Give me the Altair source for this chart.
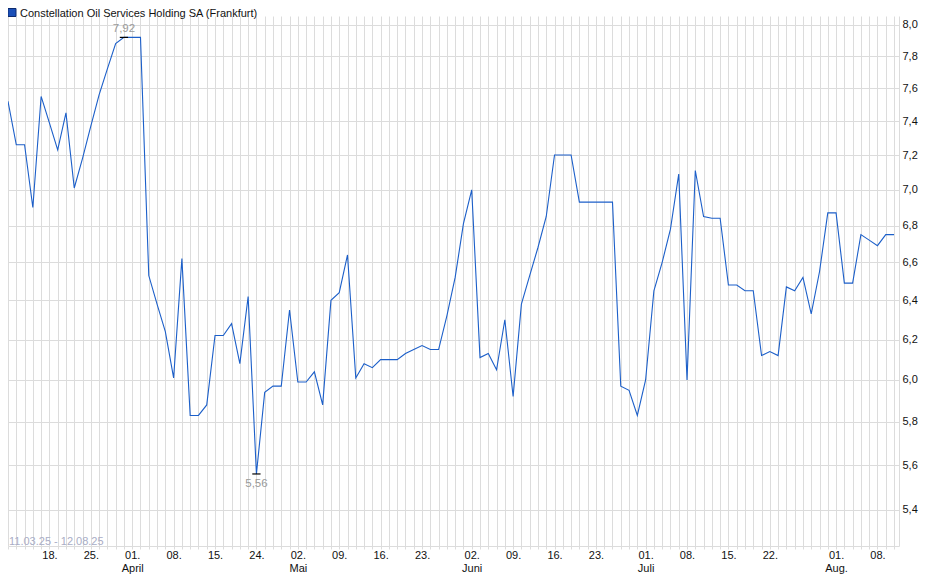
import altair as alt
import pandas as pd

# ---------------- data ----------------
series_name = "Constellation Oil Services Holding SA (Frankfurt)"
range_text = "11.03.25 - 12.08.25"

holidays = ["2025-04-18", "2025-04-21", "2025-05-01"]
days = [d.strftime("%Y-%m-%d") for d in pd.bdate_range("2025-03-11", "2025-08-12")
        if d.strftime("%Y-%m-%d") not in holidays]

prices = [
    7.52, 7.26, 7.26, 6.90, 7.55, 7.39, 7.23, 7.45, 7.01, 7.18,
    7.37, 7.56, 7.72, 7.88, 7.92, 7.92, 7.92, 6.53, 6.38, 6.24,
    6.01, 6.62, 5.83, 5.83, 5.88, 6.22, 6.22, 6.28, 6.08, 6.42,
    5.56, 5.94, 5.97, 5.97, 6.35, 5.99, 5.99, 6.04, 5.88, 6.40,
    6.44, 6.64, 6.01, 6.08, 6.06, 6.10, 6.10, 6.10, 6.13, 6.15,
    6.17, 6.15, 6.15, 6.32, 6.52, 6.81, 7.00, 6.11, 6.13, 6.05,
    6.30, 5.92, 6.38, 6.53, 6.68, 6.85, 7.20, 7.20, 7.20, 6.93,
    6.93, 6.93, 6.93, 6.93, 5.97, 5.95, 5.83, 6.00, 6.45, 6.60,
    6.78, 7.09, 6.00, 7.11, 6.85, 6.84, 6.84, 6.48, 6.48, 6.45,
    6.45, 6.12, 6.14, 6.12, 6.47, 6.45, 6.52, 6.33, 6.55, 6.87,
    6.87, 6.49, 6.49, 6.75, 6.72, 6.69, 6.75, 6.75,
]

tick_dates = ["2025-03-18", "2025-03-25", "2025-04-01", "2025-04-08", "2025-04-15",
              "2025-04-24", "2025-05-02", "2025-05-09", "2025-05-16", "2025-05-23",
              "2025-06-02", "2025-06-09", "2025-06-16", "2025-06-23", "2025-07-01",
              "2025-07-08", "2025-07-15", "2025-07-22", "2025-08-01", "2025-08-08"]
tick_texts = ["18.", "25.", "01.|April", "08.", "15.",
              "24.", "02.|Mai", "09.", "16.", "23.",
              "02.|Juni", "09.", "16.", "23.", "01.|Juli",
              "08.", "15.", "22.", "01.|Aug.", "08."]

y_ticks = [5.4, 5.6, 5.8, 6.0, 6.2, 6.4, 6.6, 6.8, 7.0, 7.2, 7.4, 7.6, 7.8, 8.0]

# ---------------- tables ----------------
df = pd.DataFrame({"idx": list(range(len(days))), "date": days, "price": prices,
                   "series": series_name})
tick_idx = [days.index(d) for d in tick_dates]

imax = prices.index(max(prices))
imin = prices.index(min(prices))
ann = pd.DataFrame({
    "idx": [imax, imin],
    "lo": [imax - 0.5, imin - 0.5],
    "hi": [imax + 0.5, imin + 0.5],
    "price": [prices[imax], prices[imin]],
    "label": [f"{prices[imax]:.2f}".replace(".", ","), f"{prices[imin]:.2f}".replace(".", ",")],
    "kind": ["max", "min"],
})

# ---------------- style ----------------
FONT = "Liberation Sans"
GRID = "#dcdcdc"
LINE = "#1c5fc9"
W, H = 891, 530

label_expr = (
    f"indexof({tick_idx}, datum.value) < 0 ? '' : "
    f"split({tick_texts}[indexof({tick_idx}, datum.value)], '|')"
)

x_axis = alt.Axis(values=list(range(len(days))), labelExpr=label_expr, grid=True,
                  gridColor=GRID, gridWidth=1, tickColor=GRID, tickSize=3, domainColor=GRID,
                  labelFont=FONT, labelFontSize=11, labelColor="#111", labelPadding=0,
                  labelFlush=False, labelOverlap=False, labelLineHeight=13, title=None)
y_axis = alt.Axis(orient="right", values=y_ticks,
                  labelExpr="replace(format(datum.value, '.1f'), '.', ',')",
                  grid=True, gridColor=GRID, gridWidth=1, ticks=False, domainColor=GRID,
                  labelFont=FONT, labelFontSize=11, labelColor="#111", labelPadding=3,
                  labelOverlap=False, labelFlush=False, title=None)

x_scale = alt.Scale(domain=[0, len(days) - 1 + 0.6], nice=False, zero=False)
y_scale = alt.Scale(type="log", domain=[5.2447, 8.0585], nice=False, zero=False)

line = alt.Chart(df).mark_line(color=LINE, strokeWidth=1.1).encode(
    x=alt.X("idx:Q", scale=x_scale, axis=x_axis),
    y=alt.Y("price:Q", scale=y_scale, axis=y_axis),
)

marks = alt.Chart(ann).mark_rule(color="#000", strokeWidth=1.2).encode(
    x=alt.X("lo:Q", scale=x_scale, axis=x_axis),
    x2="hi:Q",
    y=alt.Y("price:Q", scale=y_scale, axis=y_axis),
)

ann_max = alt.Chart(ann).transform_filter("datum.kind == 'max'").mark_text(
    font=FONT, fontSize=11.5, color="#9a9a9a", dy=-8, baseline="middle"
).encode(
    x=alt.X("idx:Q", scale=x_scale, axis=x_axis),
    y=alt.Y("price:Q", scale=y_scale, axis=y_axis),
    text="label:N",
)
ann_min = alt.Chart(ann).transform_filter("datum.kind == 'min'").mark_text(
    font=FONT, fontSize=11.5, color="#9a9a9a", dy=10, baseline="middle"
).encode(
    x=alt.X("idx:Q", scale=x_scale, axis=x_axis),
    y=alt.Y("price:Q", scale=y_scale, axis=y_axis),
    text="label:N",
)

range_lbl = alt.Chart(pd.DataFrame({"t": [range_text]})).mark_text(
    font=FONT, fontSize=11, color="#a9adc6", align="left", baseline="middle"
).encode(x=alt.value(1), y=alt.value(H - 4.5), text="t:N")

legend_sq = alt.Chart(pd.DataFrame({"s": [series_name]})).mark_square(
    size=64, fill="#1a4fb8", stroke="#0c2a6e", strokeWidth=1, opacity=1
).encode(x=alt.value(4), y=alt.value(-3.5))

legend_txt = alt.Chart(pd.DataFrame({"s": [series_name]})).mark_text(
    font=FONT, fontSize=11, color="#111", align="left", baseline="middle"
).encode(x=alt.value(12), y=alt.value(-1.8), text="s:N")

chart = alt.layer(line, marks, ann_max, ann_min, range_lbl, legend_sq, legend_txt).properties(
    width=W, height=H,
    autosize=alt.AutoSizeParams(type="none"),
    padding={"left": 0, "top": 8, "right": 25, "bottom": 30},
    background="white",
).configure_view(strokeWidth=0)

chart.save("out.html", embed_options={"renderer": "svg", "actions": False})
